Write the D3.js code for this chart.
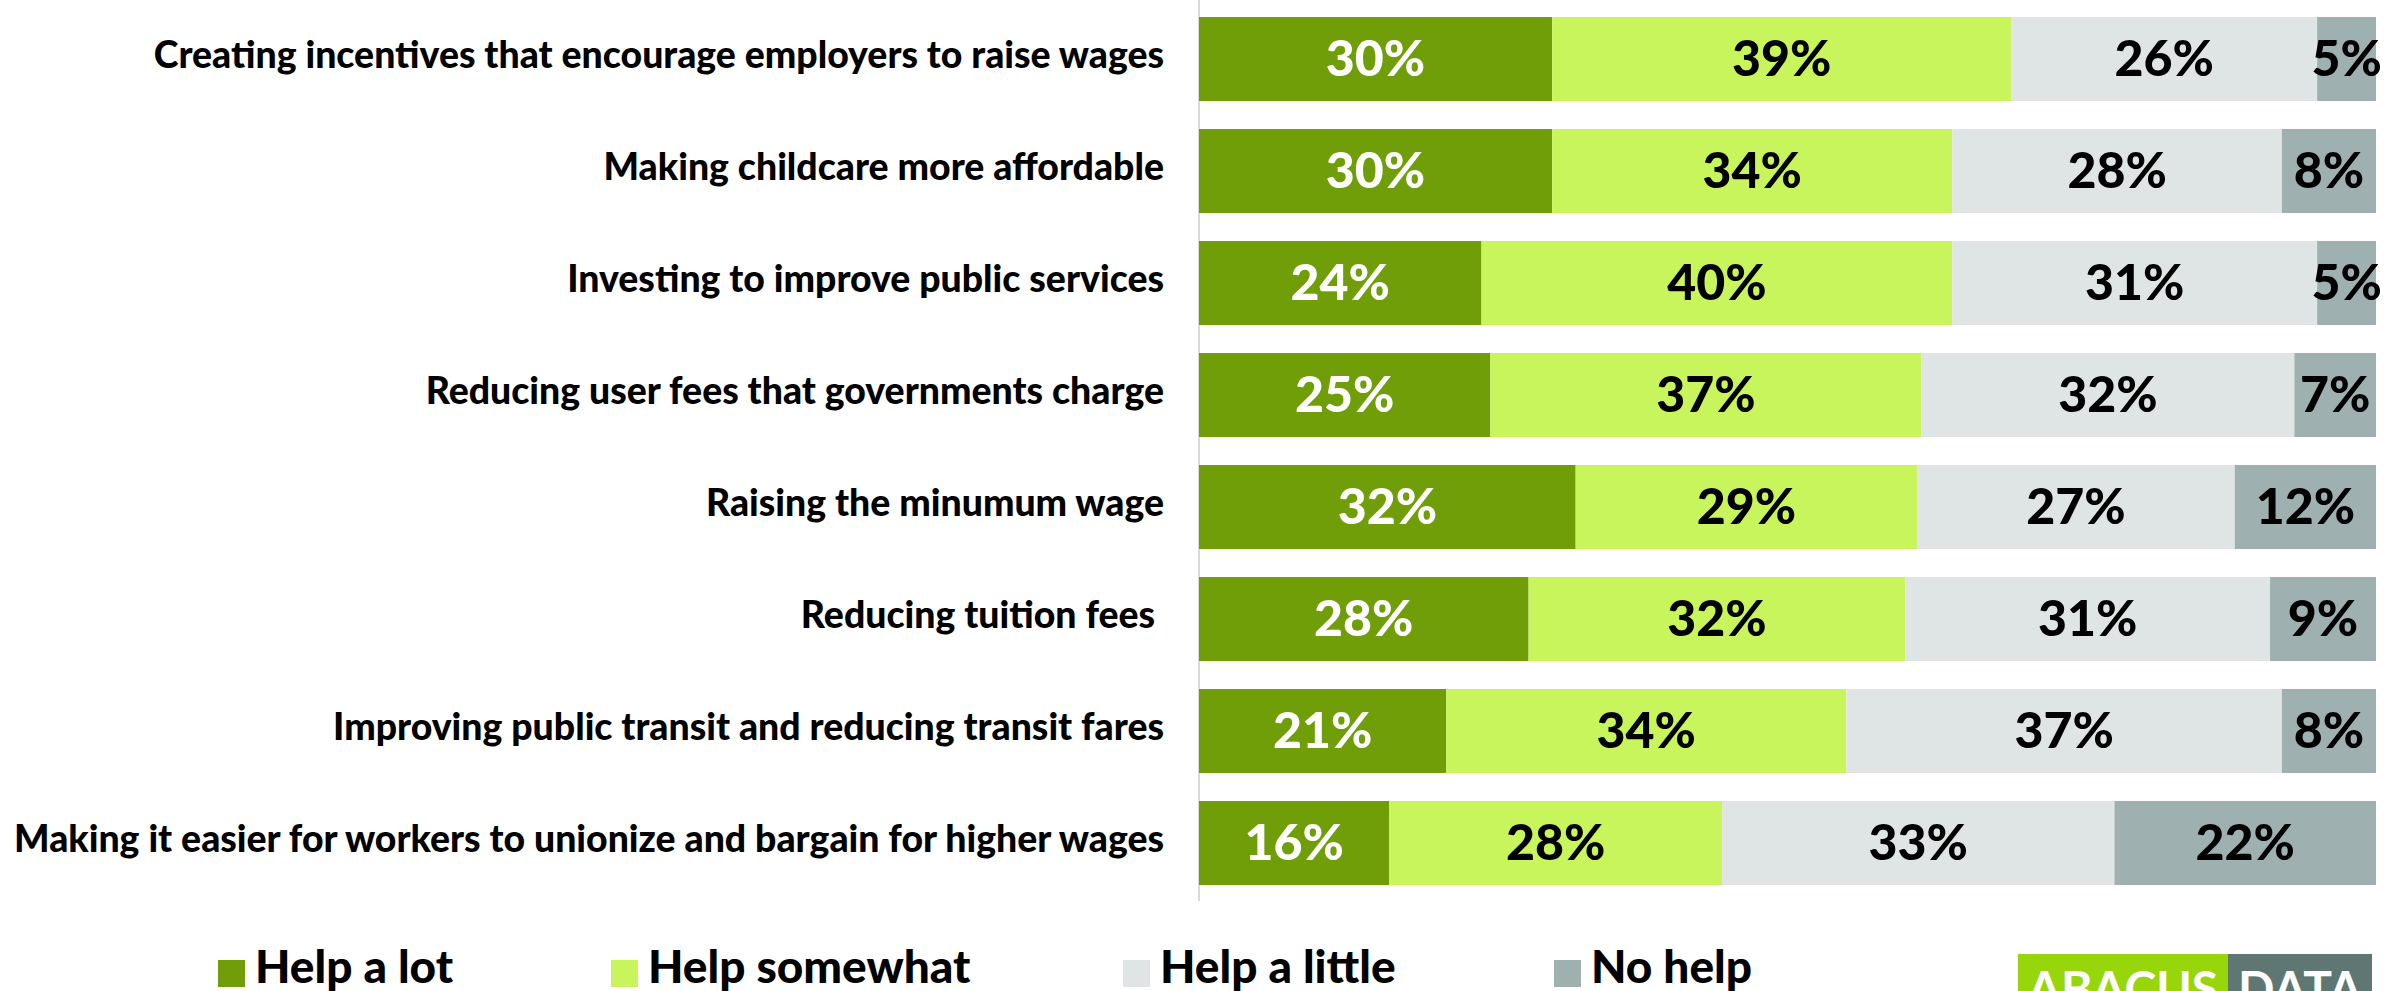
<!DOCTYPE html>
<html>
<head>
<meta charset="utf-8">
<script src="https://cdn.jsdelivr.net/npm/d3@7"></script>
<style>
  html, body { margin: 0; padding: 0; background: #ffffff; }
  svg { display: block; }
  text { font-family: "Lato", "Inter", "Open Sans", sans-serif; font-weight: 900; }
</style>
</head>
<body>
<svg id="chart" width="2396" height="991"></svg>
<script>
// ---- Data ----
const categories = [
  "Creating incentives that encourage employers to raise wages",
  "Making childcare more affordable",
  "Investing to improve public services",
  "Reducing user fees that governments charge",
  "Raising the minumum wage",
  "Reducing tuition fees ",
  "Improving public transit and reducing transit fares",
  "Making it easier for workers to unionize and bargain for higher wages"
];
const seriesNames = ["Help a lot", "Help somewhat", "Help a little", "No help"];
const helpALot      = [30, 30, 24, 25, 32, 28, 21, 16];
const helpSomewhat  = [39, 34, 40, 37, 29, 32, 34, 28];
const helpALittle   = [26, 28, 31, 32, 27, 31, 37, 33];
const noHelp        = [5, 8, 5, 7, 12, 9, 8, 22];
const colors = ["#6f9e09", "#c8f55b", "#dfe5e4", "#9eb0af"];
const labelColors = ["#ffffff", "#000000", "#000000", "#000000"];

const rows = categories.map((c, i) => ({
  category: c,
  "Help a lot": helpALot[i],
  "Help somewhat": helpSomewhat[i],
  "Help a little": helpALittle[i],
  "No help": noHelp[i]
}));

const svg = d3.select("#chart");

const x = d3.scaleLinear().domain([0, 1]).range([1199, 2376]);
const y = d3.scaleBand().domain(categories).range([3, 899])
  .paddingInner(0.25).paddingOuter(0.125);
const color = d3.scaleOrdinal().domain(seriesNames).range(colors);
const labelColor = d3.scaleOrdinal().domain(seriesNames).range(labelColors);

const stack = d3.stack().keys(seriesNames).offset(d3.stackOffsetExpand);
const stacked = stack(rows);

// axis line
svg.append("line")
  .attr("x1", x(0)).attr("x2", x(0))
  .attr("y1", 0).attr("y2", 901)
  .attr("stroke", "#d9d9d9").attr("stroke-width", 2);

// bars
const groups = svg.append("g").selectAll("g")
  .data(stacked).join("g")
  .attr("fill", d => color(d.key));

groups.selectAll("rect")
  .data(d => d.map(v => ({ key: d.key, v })))
  .join("rect")
  .attr("x", d => x(d.v[0]))
  .attr("y", d => y(d.v.data.category))
  .attr("width", d => x(d.v[1]) - x(d.v[0]))
  .attr("height", y.bandwidth());

// value labels
const vl = svg.append("g");
stacked.forEach(s => {
  s.forEach(v => {
    vl.append("text")
      .attr("x", (x(v[0]) + x(v[1])) / 2)
      .attr("y", y(v.data.category) + y.bandwidth() / 2 - 1)
      .attr("dy", "0.36em")
      .attr("text-anchor", "middle")
      .attr("fill", labelColor(s.key))
      .style("font-size", "50px")
      .text(v.data[s.key] + "%");
  });
});

// category labels
svg.append("g").selectAll("text")
  .data(categories).join("text")
  .attr("x", 1164)
  .attr("y", d => y(d) + y.bandwidth() / 2 - 4)
  .attr("dy", "0.36em")
  .attr("text-anchor", "end")
  .attr("fill", "#000")
  .style("font-size", "37.4px")
  .style("white-space", "pre")
  .text(d => d);

// legend
const legendX = [218, 611, 1123, 1554];
const lg = svg.append("g").selectAll("g")
  .data(seriesNames).join("g")
  .attr("transform", (d, i) => `translate(${legendX[i]},960)`);
lg.append("rect").attr("width", 27).attr("height", 27).attr("fill", d => color(d));
lg.append("text")
  .attr("x", 37).attr("y", 23)
  .attr("fill", "#000")
  .style("font-size", "46px")
  .text(d => d);

// logo
const logo = svg.append("g");
logo.append("rect").attr("x", 2018).attr("y", 954).attr("width", 210).attr("height", 50).attr("fill", "#96d60a");
logo.append("rect").attr("x", 2228).attr("y", 954).attr("width", 144).attr("height", 50).attr("fill", "#5f7772");
logo.append("text").attr("x", 2123).attr("y", 1006).attr("text-anchor", "middle")
  .attr("fill", "#fff").style("font-size", "48px").style("font-weight", "700").text("ABACUS");
logo.append("text").attr("x", 2300).attr("y", 1006).attr("text-anchor", "middle")
  .attr("fill", "#fff").style("font-size", "48px").style("font-weight", "700").text("DATA");
</script>
</body>
</html>
